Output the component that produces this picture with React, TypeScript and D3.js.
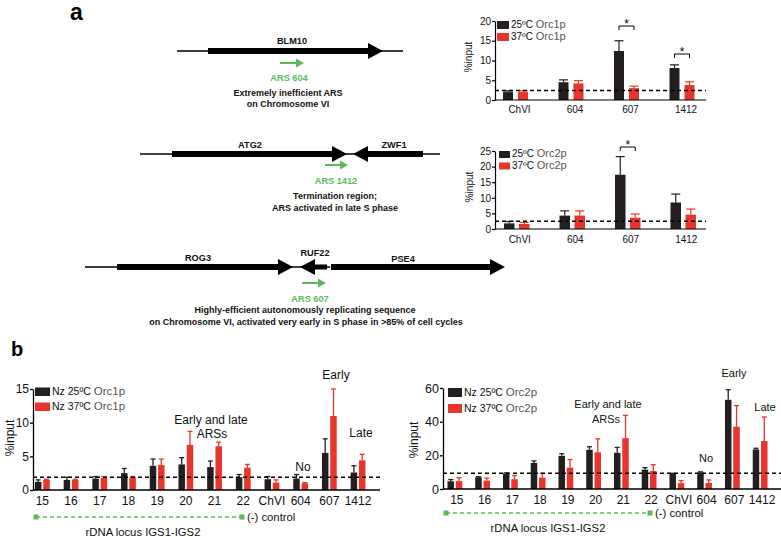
import * as d3 from "d3";
import { useEffect, useRef } from "react";

// ---- panel a charts ----
const topCats = ["ChVI", "604", "607", "1412"];
const orc1Top25 = [2.0, 4.5, 12.4, 8.1];
const orc1Top25Err = [0.3, 0.6, 2.6, 0.8];
const orc1Top37 = [2.0, 4.2, 3.0, 3.8];
const orc1Top37Err = [0.3, 0.7, 0.5, 0.8];
const orc2Top25 = [1.8, 4.3, 17.4, 8.5];
const orc2Top25Err = [0.6, 1.5, 5.8, 2.7];
const orc2Top37 = [1.6, 4.3, 3.6, 4.6];
const orc2Top37Err = [0.5, 1.5, 1.2, 1.8];

// ---- panel b charts ----
const bottomCats = ["15", "16", "17", "18", "19", "20", "21", "22", "ChVI", "604", "607", "1412"];
const nzOrc1_25 = [1.2, 1.5, 1.7, 2.5, 3.6, 3.8, 3.4, 1.9, 1.6, 1.7, 5.5, 2.6];
const nzOrc1_25Err = [0.3, 0.4, 0.3, 0.7, 1.0, 1.0, 0.9, 0.4, 0.4, 0.6, 2.1, 1.0];
const nzOrc1_37 = [1.5, 1.5, 1.8, 1.9, 3.7, 6.7, 6.5, 3.3, 1.1, 1.0, 11.0, 4.4];
const nzOrc1_37Err = [0.1, 0.1, 0.2, 0.1, 0.9, 2.0, 0.6, 0.5, 0.4, 0.1, 4.0, 0.9];
const nzOrc2_25 = [4.6, 7.0, 9.2, 15.5, 19.7, 23.3, 21.5, 11.5, 9.0, 9.8, 53.0, 23.5];
const nzOrc2_25Err = [1.0, 0.3, 0.4, 1.2, 1.3, 1.8, 3.2, 1.2, 0.3, 0.4, 6.0, 0.7];
const nzOrc2_37 = [4.7, 5.0, 5.8, 6.8, 12.7, 21.8, 30.2, 10.7, 3.5, 3.6, 37.0, 28.5];
const nzOrc2_37Err = [2.0, 1.5, 2.2, 2.5, 4.8, 8.0, 13.5, 3.7, 1.5, 1.8, 12.5, 14.3];

const topTicks1 = [0, 5, 10, 15, 20];
const topTicks2 = [0, 5, 10, 15, 20, 25];
const bottomTicks1 = [0, 5, 10, 15];
const bottomTicks2 = [0, 20, 40, 60];

const FONT = "'Liberation Sans', Arial, Helvetica, sans-serif";
const BLACK = "#231f20";
const RED = "#e8352b";
const GREEN = "#5cb85c";

const drawChart = (svg: any, c: any) => {
  const x = d3.scaleBand().domain(c.cats).range(c.band);
  const y = d3.scaleLinear().domain(c.yDomain).range(c.yRange);
  const g = svg.append("g");
  const mid = (d: string) => (x(d) as number) + x.bandwidth() / 2;

  const series = [
    { vals: c.v25, errs: c.e25, color: BLACK, off: -c.gap / 2 - c.barW },
    { vals: c.v37, errs: c.e37, color: RED, off: c.gap / 2 },
  ];
  series.forEach((s) => {
    const sg = g.append("g");
    const rows = c.cats.map((d: string, i: number) => ({ cat: d, v: s.vals[i], e: s.errs[i] }));
    const cx = (r: any) => mid(r.cat) + s.off + c.barW / 2;
    sg.selectAll("line.err").data(rows).enter().append("line")
      .attr("x1", cx).attr("x2", cx)
      .attr("y1", (r: any) => y(r.v)).attr("y2", (r: any) => y(r.v + r.e))
      .attr("stroke", s.color).attr("stroke-width", c.lineW);
    sg.selectAll("line.cap").data(rows).enter().append("line")
      .attr("x1", (r: any) => cx(r) - c.capW).attr("x2", (r: any) => cx(r) + c.capW)
      .attr("y1", (r: any) => y(r.v + r.e)).attr("y2", (r: any) => y(r.v + r.e))
      .attr("stroke", s.color).attr("stroke-width", c.lineW);
    sg.selectAll("rect").data(rows).enter().append("rect")
      .attr("x", (r: any) => mid(r.cat) + s.off)
      .attr("width", c.barW)
      .attr("y", (r: any) => y(r.v))
      .attr("height", (r: any) => y(0) - y(r.v))
      .attr("fill", s.color);
  });

  // cutoff line
  g.append("line")
    .attr("x1", c.axisX[0]).attr("x2", c.axisX[1])
    .attr("y1", y(c.cutoff)).attr("y2", y(c.cutoff))
    .attr("stroke", "#000").attr("stroke-width", 1.5).attr("stroke-dasharray", "4,3");

  // y axis
  const ya = g.append("g").attr("transform", `translate(${c.axisX[0]},0)`)
    .call(d3.axisLeft(y).tickValues(c.ticks).tickSize(3).tickSizeOuter(0).tickPadding(1).tickFormat(d3.format("d")));
  ya.selectAll("path,line").attr("stroke", "#000").attr("stroke-width", c.lineW);
  ya.selectAll("text").attr("font-family", FONT).attr("font-size", c.yTickFont || c.tickFont).attr("fill", "#111");

  // x axis line + labels
  g.append("line")
    .attr("x1", c.axisX[0]).attr("x2", c.axisX[1])
    .attr("y1", y(0)).attr("y2", y(0))
    .attr("stroke", "#000").attr("stroke-width", c.lineW);
  g.selectAll("text.xl").data(c.cats).enter().append("text")
    .attr("x", (d: string) => mid(d) + c.xLabelShift)
    .attr("y", c.xLabelY)
    .attr("text-anchor", "middle")
    .attr("font-family", FONT).attr("font-size", c.tickFont).attr("fill", "#111")
    .text((d: string) => d);

  // y title
  g.append("text")
    .attr("transform", `translate(${c.titleX},${c.titleY}) rotate(-90)`)
    .attr("text-anchor", "middle")
    .attr("font-family", FONT).attr("font-size", c.titleFont).attr("fill", "#111")
    .text("%input");

  // legend
  c.legend.forEach((l: any, i: number) => {
    const ly = c.legendY + i * c.legendStep;
    g.append("rect").attr("x", c.legendX).attr("y", ly - c.legendBox + 1)
      .attr("width", c.legendBoxW).attr("height", c.legendBox)
      .attr("fill", i === 0 ? BLACK : RED);
    const t = g.append("text").attr("x", c.legendX + c.legendBoxW + 2).attr("y", ly)
      .attr("font-family", FONT).attr("font-size", c.legendFont).attr("fill", "#111");
    t.append("tspan").text(l[0] + " ");
    t.append("tspan").attr("fill", "#555").attr("font-size", c.legendFont + 1).text(l[1]);
  });

  // significance
  (c.sig || []).forEach((sgn: any) => {
    const x1 = mid(sgn.cat) - c.gap / 2 - c.barW / 2;
    const x2 = mid(sgn.cat) + c.gap / 2 + c.barW / 2;
    g.append("path")
      .attr("d", `M${x1},${sgn.y + 4}V${sgn.y}H${x2}V${sgn.y + 4}`)
      .attr("fill", "none").attr("stroke", "#000").attr("stroke-width", 1);
    g.append("text").attr("x", (x1 + x2) / 2).attr("y", sgn.y + 2)
      .attr("text-anchor", "middle").attr("font-family", FONT).attr("font-size", 12)
      .text("*");
  });

  // annotations
  (c.notes || []).forEach((n: any) => {
    g.append("text").attr("x", n.x).attr("y", n.y).attr("text-anchor", "middle")
      .attr("font-family", FONT).attr("font-size", c.noteFont).attr("fill", "#111")
      .text(n.t);
  });

  // rDNA bracket
  if (c.rdna) {
    const r = c.rdna;
    g.append("line").attr("x1", r.x1).attr("x2", r.x2).attr("y1", r.y).attr("y2", r.y)
      .attr("stroke", GREEN).attr("stroke-width", 1.5).attr("stroke-dasharray", "4,3");
    [r.x1, r.x2].forEach((px: number) => {
      g.append("rect").attr("x", px - 2.5).attr("y", r.y - 2.5).attr("width", 5).attr("height", 5)
        .attr("fill", GREEN);
    });
    g.append("text").attr("x", r.x2 + 5).attr("y", r.y + 4)
      .attr("font-family", FONT).attr("font-size", 11.3).attr("fill", "#111").text("(-) control");
    g.append("text").attr("x", r.labelX).attr("y", r.y + 19).attr("text-anchor", "middle")
      .attr("font-family", FONT).attr("font-size", 11.3).attr("fill", "#111").text("rDNA locus IGS1-IGS2");
  }
};

// gene arrow: thick bar with a head, dir 1 = right, -1 = left
const geneArrow = (g: any, from: number, to: number, yy: number, dir: number, thick = 6) => {
  const head = 15, hh = 8;
  const t = thick / 2;
  let d;
  if (dir > 0) {
    d = `M${from},${yy - t}H${to - head}V${yy - hh}L${to},${yy}L${to - head},${yy + hh}V${yy + t}H${from}Z`;
  } else {
    d = `M${to},${yy - t}H${from + head}V${yy - hh}L${from},${yy}L${from + head},${yy + hh}V${yy + t}H${to}Z`;
  }
  g.append("path").attr("d", d).attr("fill", "#000");
};

const greenArrow = (g: any, x1: number, x2: number, yy: number) => {
  g.append("line").attr("x1", x1).attr("x2", x2 - 6).attr("y1", yy).attr("y2", yy)
    .attr("stroke", GREEN).attr("stroke-width", 2);
  g.append("path").attr("d", `M${x2},${yy}L${x2 - 8},${yy - 4.5}L${x2 - 8},${yy + 4.5}Z`).attr("fill", GREEN);
};

const label = (g: any, x: number, y: number, t: string, size = 9, fill = "#111") => {
  g.append("text").attr("x", x).attr("y", y).attr("text-anchor", "middle")
    .attr("font-family", FONT).attr("font-weight", "bold").attr("font-size", size)
    .attr("fill", fill).text(t);
};

const App = () => {
  const ref = useRef<SVGSVGElement>(null);
  useEffect(() => {
    document.body.style.margin = "0";
    const svg = d3.select(ref.current);
    svg.selectAll("*").remove();
    svg.append("rect").attr("width", 781).attr("height", 537).attr("fill", "#fff");

    // panel letters
    svg.append("text").attr("x", 70).attr("y", 20).attr("font-family", FONT)
      .attr("font-weight", "bold").attr("font-size", 23).text("a");
    svg.append("text").attr("x", 11).attr("y", 356).attr("font-family", FONT)
      .attr("font-weight", "bold").attr("font-size", 20).text("b");

    // diagrams
    const dg = svg.append("g");
    // BLM10
    dg.append("line").attr("x1", 177).attr("x2", 403).attr("y1", 51).attr("y2", 51).attr("stroke", "#000").attr("stroke-width", 1.3);
    geneArrow(dg, 208, 383, 51, 1);
    label(dg, 292, 44, "BLM10", 9.2);
    greenArrow(dg, 280, 304, 63);
    label(dg, 289, 81, "ARS 604", 9.2, GREEN);
    label(dg, 288, 96, "Extremely inefficient ARS", 9);
    label(dg, 288, 107, "on Chromosome VI", 9);

    // ATG2 / ZWF1
    dg.append("line").attr("x1", 140).attr("x2", 440).attr("y1", 154).attr("y2", 154).attr("stroke", "#000").attr("stroke-width", 1.3);
    geneArrow(dg, 172, 347, 154, 1);
    geneArrow(dg, 353, 423, 154, -1);
    label(dg, 250, 148, "ATG2", 9.2);
    label(dg, 394, 148, "ZWF1", 9.2);
    greenArrow(dg, 325, 348, 165);
    label(dg, 336, 184, "ARS 1412", 9.2, GREEN);
    label(dg, 335, 199, "Termination region;", 9);
    label(dg, 335, 211, "ARS activated in late S phase", 9);

    // ROG3 / RUF22 / PSE4
    dg.append("line").attr("x1", 85).attr("x2", 330).attr("y1", 267).attr("y2", 267).attr("stroke", "#000").attr("stroke-width", 1.3);
    geneArrow(dg, 117, 293, 267, 1);
    geneArrow(dg, 300, 327, 267, -1, 5);
    geneArrow(dg, 331, 505, 267, 1);
    label(dg, 198, 261, "ROG3", 9.2);
    label(dg, 315, 256, "RUF22", 9.2);
    label(dg, 403, 262, "PSE4", 9.2);
    greenArrow(dg, 302, 326, 283);
    label(dg, 310, 302, "ARS 607", 9.2, GREEN);
    label(dg, 305, 313, "Highly-efficient autonomously replicating sequence", 9);
    label(dg, 306, 325, "on Chromosome VI, activated very early in S phase in >85% of cell cycles", 9);

    // top chart 1
    drawChart(svg, {
      cats: topCats, v25: orc1Top25, e25: orc1Top25Err, v37: orc1Top37, e37: orc1Top37Err,
      band: [487.75, 709.75], axisX: [495, 706], yDomain: [0, 20], yRange: [100, 21],
      ticks: topTicks1, barW: 10, gap: 5, capW: 4.5, cutoff: 2.4, lineW: 1.2,
      tickFont: 10, xLabelY: 113, xLabelShift: 4,
      titleX: 472, titleY: 57, titleFont: 10,
      legend: [["25ºC", "Orc1p"], ["37ºC", "Orc1p"]],
      legendX: 497, legendY: 28, legendStep: 12, legendBox: 8, legendBoxW: 12, legendFont: 10,
      sig: [{ cat: "607", y: 26 }, { cat: "1412", y: 54 }],
    });

    // top chart 2
    drawChart(svg, {
      cats: topCats, v25: orc2Top25, e25: orc2Top25Err, v37: orc2Top37, e37: orc2Top37Err,
      band: [489, 711], axisX: [495, 706], yDomain: [0, 25], yRange: [229, 151],
      ticks: topTicks2, barW: 10.5, gap: 4.5, capW: 4.5, cutoff: 2.5, lineW: 1.2,
      tickFont: 10, xLabelY: 243, xLabelShift: 3,
      titleX: 473, titleY: 187, titleFont: 10,
      legend: [["25ºC", "Orc2p"], ["37ºC", "Orc2p"]],
      legendX: 499, legendY: 157, legendStep: 11.5, legendBox: 7, legendBoxW: 11, legendFont: 10,
      sig: [{ cat: "607", y: 147 }],
    });

    // bottom chart 1
    drawChart(svg, {
      cats: bottomCats, v25: nzOrc1_25, e25: nzOrc1_25Err, v37: nzOrc1_37, e37: nzOrc1_37Err,
      band: [28, 372.4], axisX: [33, 380], yDomain: [0, 15], yRange: [490, 389],
      ticks: bottomTicks1, barW: 6.5, gap: 1.8, capW: 2.5, cutoff: 1.9, lineW: 1.3,
      tickFont: 12, xLabelY: 505, xLabelShift: 0,
      titleX: 14, titleY: 438, titleFont: 12,
      legend: [["Nz 25ºC", "Orc1p"], ["Nz 37ºC", "Orc1p"]],
      legendX: 35, legendY: 395, legendStep: 15, legendBox: 8.5, legendBoxW: 15, legendFont: 10.5,
      noteFont: 12,
      notes: [
        { x: 211, y: 424, t: "Early and late" },
        { x: 212, y: 438, t: "ARSs" },
        { x: 336, y: 379, t: "Early" },
        { x: 361, y: 437, t: "Late" },
        { x: 303, y: 471, t: "No" },
      ],
      rdna: { x1: 36, x2: 242, y: 517, labelX: 143 },
    });

    // bottom chart 2
    drawChart(svg, {
      cats: bottomCats, v25: nzOrc2_25, e25: nzOrc2_25Err, v37: nzOrc2_37, e37: nzOrc2_37Err,
      band: [441, 774], axisX: [443, 781], yDomain: [0, 60], yRange: [489, 388],
      ticks: bottomTicks2, barW: 6.5, gap: 1.8, capW: 2.5, cutoff: 9.3, lineW: 1.3,
      tickFont: 12, yTickFont: 12.5, xLabelY: 504, xLabelShift: 2,
      titleX: 418, titleY: 440, titleFont: 12,
      legend: [["Nz 25ºC", "Orc2p"], ["Nz 37ºC", "Orc2p"]],
      legendX: 448, legendY: 396, legendStep: 16, legendBox: 9, legendBoxW: 14, legendFont: 10.5,
      noteFont: 11,
      notes: [
        { x: 608, y: 408, t: "Early and late" },
        { x: 606, y: 423, t: "ARSs" },
        { x: 734, y: 377, t: "Early" },
        { x: 765, y: 411, t: "Late" },
        { x: 706, y: 462, t: "No" },
      ],
      rdna: { x1: 446, x2: 650, y: 513, labelX: 548 },
    });
  }, []);

  return <svg ref={ref} width={781} height={537} style={{ display: "block" }} />;
};

export default App;
